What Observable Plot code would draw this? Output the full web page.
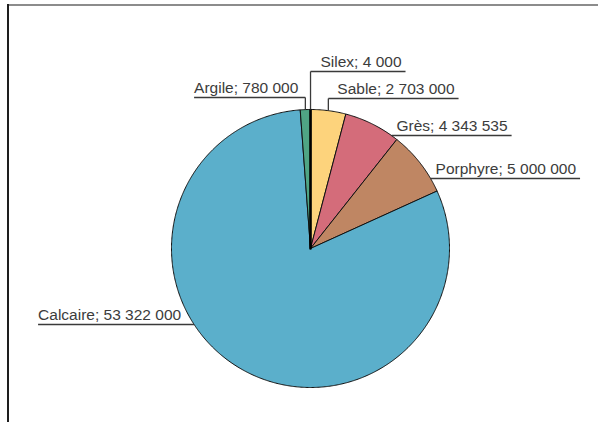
<!DOCTYPE html>
<html>
<head>
<meta charset="utf-8">
<script src="https://cdn.jsdelivr.net/npm/d3@7"></script>
<script src="https://cdn.jsdelivr.net/npm/@observablehq/plot@0.6"></script>
<style>
  html, body { margin: 0; padding: 0; background: #fff; }
  #wrap { position: relative; width: 598px; height: 422px; overflow: hidden; }
  #wrap svg { position: absolute; left: 0; top: 0; }
  .frame-top { position: absolute; left: 8px; top: 4px; width: 590px; height: 2px; background: #8c8c8c; }
  .frame-left { position: absolute; left: 7px; top: 4px; width: 2px; height: 418px; background: #1e1e1e; }
</style>
</head>
<body>
<div id="wrap"><div class="frame-top"></div><div class="frame-left"></div></div>
<script>
// ---- Data ----
const materials = ["Silex", "Sable", "Grès", "Porphyre", "Calcaire", "Argile"];
const tonnages = [4000, 2703000, 4343535, 5000000, 53322000, 780000];

// ---- Style ----
const sliceColors = ["#111111", "#fdd37c", "#d46c7a", "#bf8663", "#5bafcb", "#4fa584"];

// ---- Layout (pixels) ----
const W = 598, H = 422;
const cx = 310, cy = 248, R = 139;
// underline position (pixel y) and leader style for each label
const labelLayout = {
  "Silex":    {lineY: 71,  mode: "up",   side: "right", pad: 10},
  "Sable":    {lineY: 98,  mode: "up",   side: "right", pad: 9},
  "Argile":   {lineY: 97,  mode: "up",   side: "left",  pad: 7},
  "Grès":     {lineY: 135, mode: "edge", side: "right", pad: 5},
  "Porphyre": {lineY: 178, mode: "edge", side: "right", pad: 5},
  "Calcaire": {lineY: 324, mode: "edge", side: "left",  pad: 13}
};
const FONT_SIZE = 15.5;
const FONT = `${FONT_SIZE}px 'Liberation Sans', Arial, Helvetica, sans-serif`;

// pixel <-> unit conversion (unit = pie radius)
const ux = px => (px - cx) / R;
const uy = py => (cy - py) / R;

// ---- Pie geometry from the data ----
const pie = d3.pie().sort(null).value(d => d.v).startAngle(0).endAngle(2 * Math.PI);
const rows = materials.map((m, i) => ({name: m, v: tonnages[i]}));
const arcs = pie(rows);

const slicePts = [];
for (const a of arcs) {
  const n = Math.max(2, Math.ceil((a.endAngle - a.startAngle) / (Math.PI / 360)));
  slicePts.push({name: a.data.name, x: 0, y: 0});
  for (let k = 0; k <= n; k++) {
    const t = a.startAngle + (a.endAngle - a.startAngle) * k / n;
    slicePts.push({name: a.data.name, x: Math.sin(t), y: Math.cos(t)});
  }
  slicePts.push({name: a.data.name, x: 0, y: 0});
}

// ---- Labels ----
const ctx = document.createElement("canvas").getContext("2d");
ctx.font = FONT;
const fmt = v => d3.format(",")(v).replace(/,/g, " ");

const texts = [], links = [];
for (const a of arcs) {
  const name = a.data.name;
  const L = labelLayout[name];
  const label = `${name}; ${fmt(a.data.v)}`;
  const tw = ctx.measureText(label).width;
  const ly = uy(L.lineY);
  let joinX;
  if (L.mode === "up") {
    const mid = (a.startAngle + a.endAngle) / 2;
    joinX = Math.sin(mid);
    links.push({x1: joinX, y1: Math.cos(mid), x2: joinX, y2: ly});
  } else {
    const s = Math.sqrt(Math.max(0, 1 - ly * ly));
    joinX = L.side === "right" ? s : -s;
  }
  const joinPx = cx + joinX * R;
  if (L.side === "right") {
    const tx = joinPx + L.pad;
    texts.push({label, x: ux(tx), y: ly});
    links.push({x1: joinX, y1: ly, x2: ux(tx + tw + 4), y2: ly});
  } else {
    const tEnd = joinPx - L.pad;
    const tStart = tEnd - tw;
    texts.push({label, x: ux(tStart), y: ly});
    links.push({x1: ux(tStart), y1: ly, x2: joinX, y2: ly});
  }
}

const chart = Plot.plot({
  width: W,
  height: H,
  margin: 0,
  x: {domain: [ux(0), ux(W)], range: [0, W], axis: null},
  y: {domain: [uy(H), uy(0)], range: [H, 0], axis: null},
  color: {domain: materials, range: sliceColors},
  style: {background: "transparent", overflow: "visible"},
  marks: [
    Plot.line(slicePts, {
      x: "x", y: "y", z: "name", fill: "name",
      stroke: "#111", strokeWidth: 1, strokeLinejoin: "miter", curve: "linear"
    }),
    // the tiny Silex slice is drawn with a heavier outline so it stays visible
    Plot.line(slicePts.filter(d => d.name === "Silex"), {
      x: "x", y: "y", fill: "#000",
      stroke: "#000", strokeWidth: 2.6, strokeLinejoin: "miter", curve: "linear"
    }),
    Plot.link(links, {
      x1: "x1", y1: "y1", x2: "x2", y2: "y2",
      stroke: "#3a3a3a", strokeWidth: 1.3
    }),
    Plot.text(texts, {
      x: "x", y: "y", text: "label",
      textAnchor: "start", lineAnchor: "bottom", dy: -5,
      fill: "#3c3c3c", fontSize: FONT_SIZE,
      fontFamily: "'Liberation Sans', Arial, Helvetica, sans-serif"
    })
  ]
});
document.getElementById("wrap").prepend(chart);
</script>
</body>
</html>
